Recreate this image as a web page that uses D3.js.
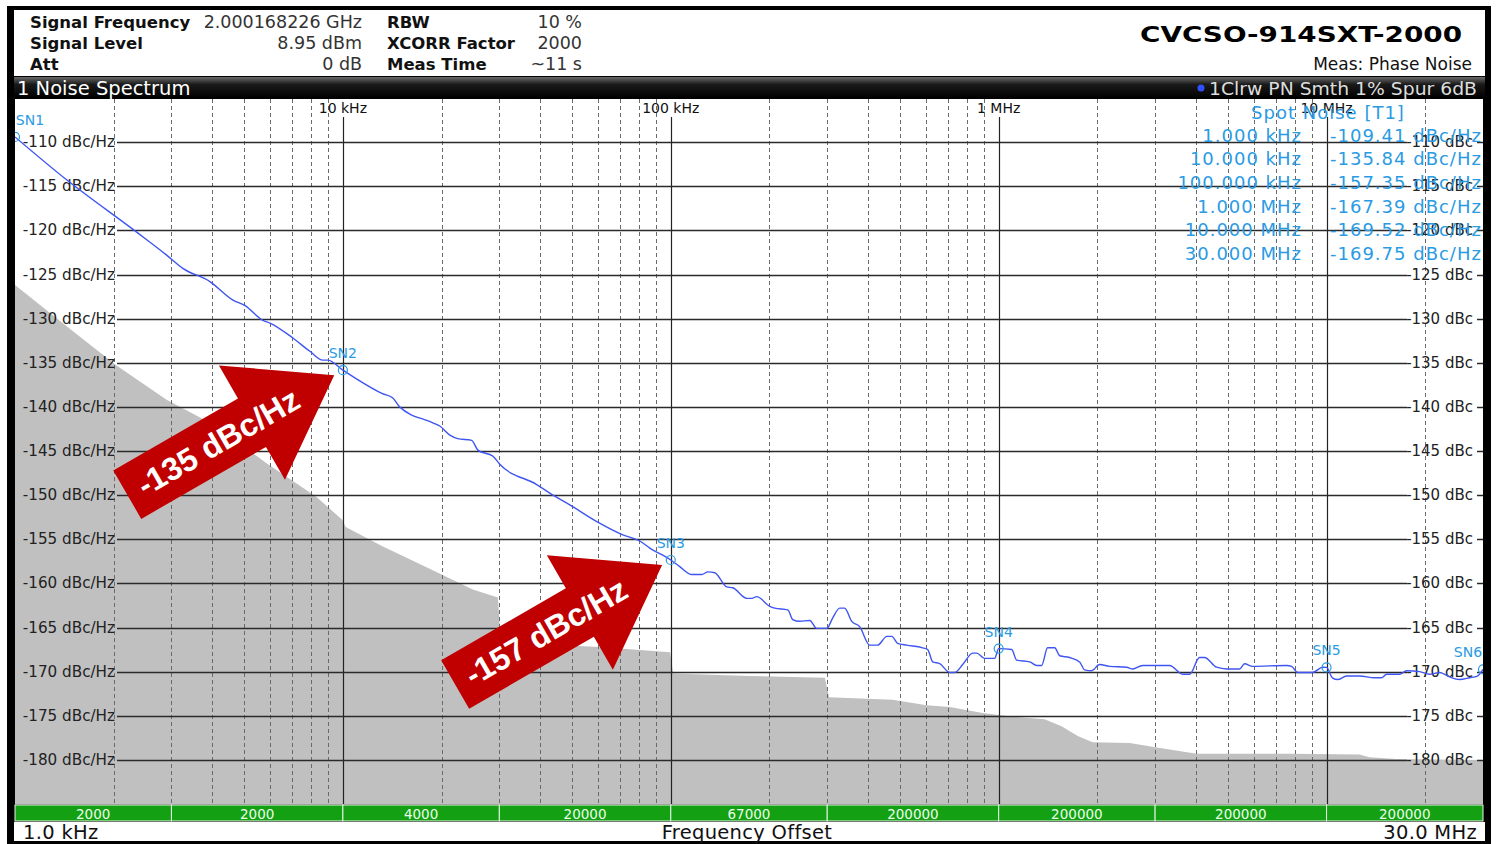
<!DOCTYPE html>
<html>
<head>
<meta charset="utf-8">
<script src="https://cdn.jsdelivr.net/npm/d3@7"></script>
<style>
  body { margin: 0; background: #fff; }
  svg { display: block; font-family: "DejaVu Sans", sans-serif; }
</style>
</head>
<body>
<svg id="chart" width="1497" height="844"></svg>
<script>
// phase noise trace: [offset kHz, dBc/Hz]
const trace = [
  [1.0, -109.41], [1.44, -114.3], [2.35, -120.2], [2.90, -122.8], [3.25, -124.3], [3.93, -125.8],
  [4.62, -127.9], [5.02, -128.5], [5.70, -130.2], [5.99, -130.5], [7.04, -132.2], [7.93, -133.7],
  [8.69, -134.7], [9.00, -134.7], [10.0, -135.84], [13.2, -138.5], [14.2, -139.0], [14.9, -140.0],
  [18.8, -141.8], [19.8, -142.2], [21.2, -143.2], [22.4, -143.6], [24.7, -143.8], [25.8, -144.9],
  [28.7, -145.6], [30.1, -146.5], [39.0, -148.8], [43.7, -150.0], [49.2, -151.1], [59.5, -153.0],
  [71.4, -154.5], [80.4, -155.2], [86.3, -156.0], [100, -157.35], [106.5, -158.1], [115.9, -159.0],
  [124.3, -159.0], [129.7, -158.7], [136.2, -158.8], [148.2, -160.4], [154.5, -160.5], [170.6, -161.7],
  [176.6, -161.7], [182.9, -161.5], [200.4, -162.6], [207.5, -162.8], [227.5, -163.0], [235.5, -164.1],
  [247.3, -164.3], [265.3, -164.2], [278.6, -165.1], [299, -165.1], [311.9, -163.9], [327.5, -162.8],
  [339, -162.8], [356.4, -164.3], [376.8, -164.9], [404.4, -167.0], [427.6, -167.0], [456, -166.0],
  [472, -166.0], [492, -166.8], [524.8, -167.0], [586.4, -167.3], [607.6, -167.5], [629.5, -168.9],
  [661, -169.1], [709.6, -170.1], [734.5, -170.1], [776.8, -169.2], [833.4, -167.9], [857, -167.9],
  [906, -168.5], [972, -168.5], [1000, -167.39], [1096, -167.5], [1135, -168.7], [1244, -168.9],
  [1306, -169.3], [1352, -169.3], [1410, -167.3], [1482, -167.3], [1535, -168.2], [1645, -168.4],
  [1766, -168.9], [1829, -169.8], [1921, -169.9], [2032, -169.2], [2178, -169.4], [2455, -169.5],
  [2564, -169.7], [2748, -169.3], [3321, -169.3], [3639, -170.3], [3821, -170.3], [4100, -168.4],
  [4246, -168.4], [4619, -169.5], [4955, -169.7], [5430, -169.7], [5623, -169.1], [5946, -169.4],
  [7551, -169.3], [7820, -169.4], [8166, -170.1], [9065, -170.1], [9727, -169.5], [10000, -169.52],
  [10420, -170.7], [10810, -170.9], [11510, -170.5], [12610, -170.5], [14000, -170.7], [14720, -170.7],
  [15240, -170.3], [16710, -170.3], [17540, -169.9], [19230, -170.0], [20610, -170.3], [22130, -170.1],
  [23730, -170.6], [25430, -170.9], [27290, -170.7], [28840, -170.5], [30000, -169.75]
];

// grey area: measurement sensitivity limit [offset kHz, dBc/Hz]
const noiseFloor = [
  [1.0, -126.2], [1.44, -130.9], [2.04, -135.3], [2.90, -139.2], [4.12, -142.2], [5.85, -146.4],
  [8.31, -150.2], [9.95, -152.8], [10.2, -153.6], [13.2, -155.8], [18.8, -158.5], [24.9, -160.7],
  [29.7, -161.6], [30.3, -166.7], [60.8, -167.2], [99.5, -167.8], [101.7, -170.2], [174, -170.5],
  [295, -170.7], [304, -172.9], [475, -173.2], [603, -173.8], [709, -174.0], [894, -174.7],
  [1104, -175.1], [1380, -175.4], [1556, -176.2], [1742, -177.3], [1935, -178.0], [2508, -178.1],
  [3035, -178.6], [4016, -179.3], [7712, -179.3], [12610, -179.4], [13520, -179.7], [16330, -179.9],
  [30000, -180.0]
];

const spotFreq = [1, 10, 100, 1000, 10000, 30000];
const spotFreqLabels = ['1.000 kHz', '10.000 kHz', '100.000 kHz', '1.000 MHz', '10.000 MHz', '30.000 MHz'];
const spotValues = [-109.41, -135.84, -157.35, -167.39, -169.52, -169.75];

const yTicks = d3.range(-110, -181, -5);
const decadeTicks = [10, 100, 1000, 10000];
const decadeLabels = ['10 kHz', '100 kHz', '1 MHz', '10 MHz'];

const segEdges = [1, 3, 10, 30, 100, 300, 1000, 3000, 10000, 30000];
const segLabels = ['2000', '2000', '4000', '20000', '67000', '200000', '200000', '200000', '200000'];

const headerLeft = [['Signal Frequency', '2.000168226 GHz'], ['Signal Level', '8.95 dBm'], ['Att', '0 dB']];
const headerMid = [['RBW', '10 %'], ['XCORR Factor', '2000'], ['Meas Time', '~11 s']];

const callouts = [{ marker: 1, text: '-135 dBc/Hz' }, { marker: 2, text: '-157 dBc/Hz' }];

// ---- layout
const plot = { left: 15, right: 1483, top: 99, bottom: 804 };
const blue = '#2a9be3';

const svg = d3.select('#chart');

const x = d3.scaleLog().domain([1, 30000]).range([plot.left, plot.right]);
const y = d3.scaleLinear().domain([-105, -185]).range([98, plot.bottom]);

// frame
svg.append('rect').attr('x', 7).attr('y', 6).attr('width', 1484).attr('height', 838).attr('fill', '#000');
svg.append('rect').attr('x', 14).attr('y', 10).attr('width', 1471).attr('height', 66).attr('fill', '#fff');

const defs = svg.append('defs');
const grad = defs.append('linearGradient').attr('id', 'barGrad').attr('x1', 0).attr('x2', 0).attr('y1', 0).attr('y2', 1);
grad.append('stop').attr('offset', '0%').attr('stop-color', '#6a6a6a');
grad.append('stop').attr('offset', '35%').attr('stop-color', '#1a1a1a');
grad.append('stop').attr('offset', '100%').attr('stop-color', '#000');
defs.append('clipPath').attr('id', 'plotClip')
  .append('rect').attr('x', plot.left).attr('y', plot.top)
  .attr('width', plot.right - plot.left).attr('height', plot.bottom - plot.top);

// header
const header = svg.append('g');
headerLeft.forEach((d, i) => {
  const cy = 22 + i * 21;
  header.append('text').attr('x', 30).attr('y', cy).attr('dominant-baseline', 'central')
    .attr('font-size', 16.5).attr('font-weight', 'bold').attr('fill', '#111').text(d[0]);
  header.append('text').attr('x', 362).attr('y', cy).attr('dominant-baseline', 'central')
    .attr('text-anchor', 'end').attr('font-size', 17.5).attr('fill', '#333').text(d[1]);
});
headerMid.forEach((d, i) => {
  const cy = 22 + i * 21;
  header.append('text').attr('x', 387).attr('y', cy).attr('dominant-baseline', 'central')
    .attr('font-size', 16.5).attr('font-weight', 'bold').attr('fill', '#111').text(d[0]);
  header.append('text').attr('x', 582).attr('y', cy).attr('dominant-baseline', 'central')
    .attr('text-anchor', 'end').attr('font-size', 17.5).attr('fill', '#333').text(d[1]);
});
header.append('text').attr('x', 1140).attr('y', 35).attr('dominant-baseline', 'central')
  .attr('font-size', 21).attr('font-weight', 'bold').attr('fill', '#000')
  .attr('textLength', 322).attr('lengthAdjust', 'spacingAndGlyphs').text('CVCSO-914SXT-2000');
header.append('text').attr('x', 1472).attr('y', 64).attr('dominant-baseline', 'central')
  .attr('text-anchor', 'end').attr('font-size', 17).attr('fill', '#111').text('Meas: Phase Noise');

// title bar
svg.append('rect').attr('x', 14).attr('y', 77).attr('width', 1471).attr('height', 21).attr('fill', 'url(#barGrad)');
svg.append('text').attr('x', 17).attr('y', 88).attr('dominant-baseline', 'central')
  .attr('font-size', 19.5).attr('fill', '#fff').text('1 Noise Spectrum');
svg.append('circle').attr('cx', 1201).attr('cy', 88).attr('r', 3.5).attr('fill', '#3050ff');
svg.append('text').attr('x', 1209).attr('y', 88).attr('dominant-baseline', 'central')
  .attr('font-size', 18).attr('fill', '#ddd')
  .attr('textLength', 268).attr('lengthAdjust', 'spacingAndGlyphs').text('1Clrw PN Smth 1% Spur 6dB');

// plot area
svg.append('rect').attr('x', plot.left).attr('y', plot.top)
  .attr('width', plot.right - plot.left).attr('height', plot.bottom - plot.top).attr('fill', '#fff');

const pg = svg.append('g').attr('clip-path', 'url(#plotClip)');

// grey sensitivity area
const floorArea = d3.area()
  .x(d => x(d[0]))
  .y0(plot.bottom)
  .y1(d => y(d[1]));
pg.append('path').datum(noiseFloor).attr('d', floorArea).attr('fill', '#c0c0c0');

// minor (dashed) verticals
const minor = [];
[1, 10, 100, 1000, 10000].forEach(dec => {
  for (let k = 2; k <= 9; k++) if (k * dec < 30000) minor.push(k * dec);
});
pg.selectAll('line.minor').data(minor).join('line')
  .attr('class', 'minor')
  .attr('x1', d => Math.round(x(d)) + 0.5).attr('x2', d => Math.round(x(d)) + 0.5)
  .attr('y1', plot.top).attr('y2', plot.bottom)
  .attr('stroke', '#6a6a6a').attr('stroke-width', 1).attr('stroke-dasharray', '4,3');

// decade verticals with labels on top
pg.selectAll('line.major').data(decadeTicks).join('line')
  .attr('class', 'major')
  .attr('x1', d => Math.round(x(d)) + 0.5).attr('x2', d => Math.round(x(d)) + 0.5)
  .attr('y1', 117).attr('y2', plot.bottom)
  .attr('stroke', '#222').attr('stroke-width', 1.2);
pg.selectAll('text.xlab').data(decadeTicks).join('text')
  .attr('class', 'xlab')
  .attr('x', d => x(d)).attr('y', 108).attr('text-anchor', 'middle').attr('dominant-baseline', 'central')
  .attr('font-size', 14).attr('fill', '#111')
  .text((d, i) => decadeLabels[i]);

// horizontal grid with labels on both sides
pg.selectAll('line.hgrid').data(yTicks).join('line')
  .attr('class', 'hgrid')
  .attr('x1', 117).attr('x2', 1407)
  .attr('y1', d => Math.round(y(d)) + 0.5).attr('y2', d => Math.round(y(d)) + 0.5)
  .attr('stroke', '#2a2a2a').attr('stroke-width', 1.5);
pg.selectAll('line.hdash').data(yTicks).join('line')
  .attr('class', 'hdash')
  .attr('x1', 1477).attr('x2', plot.right)
  .attr('y1', d => Math.round(y(d)) + 0.5).attr('y2', d => Math.round(y(d)) + 0.5)
  .attr('stroke', '#2a2a2a').attr('stroke-width', 1.5);
pg.selectAll('text.ylab').data(yTicks).join('text')
  .attr('class', 'ylab')
  .attr('x', 115).attr('y', d => y(d)).attr('text-anchor', 'end').attr('dominant-baseline', 'central')
  .attr('font-size', 15.2).attr('fill', '#222')
  .text(d => `${d} dBc/Hz`);
pg.selectAll('text.ylabR').data(yTicks).join('text')
  .attr('class', 'ylabR')
  .attr('x', 1473).attr('y', d => y(d)).attr('text-anchor', 'end').attr('dominant-baseline', 'central')
  .attr('font-size', 15).attr('fill', '#222')
  .text(d => `${d} dBc`);

// trace
const line = d3.line()
  .x(d => x(d[0]))
  .y(d => y(d[1]))
  .curve(d3.curveMonotoneX);
pg.append('path').datum(trace).attr('d', line)
  .attr('fill', 'none').attr('stroke', '#3f55f2').attr('stroke-width', 1.4);

// spot noise markers
spotFreq.forEach((f, i) => {
  const mx = x(f), my = y(spotValues[i]);
  pg.append('circle').attr('cx', mx).attr('cy', my).attr('r', 4.5)
    .attr('fill', 'none').attr('stroke', blue).attr('stroke-width', 1.2);
  const lx = Math.max(plot.left + 15, Math.min(plot.right - 15, mx));
  pg.append('text').attr('x', lx).attr('y', my - 17).attr('text-anchor', 'middle')
    .attr('dominant-baseline', 'central').attr('font-size', 14).attr('fill', blue)
    .text(`SN${i + 1}`);
});

// spot noise table
const table = svg.append('g').attr('font-size', 18).attr('letter-spacing', 1).attr('fill', blue);
table.append('text').attr('x', 1328).attr('y', 112).attr('text-anchor', 'middle')
  .attr('dominant-baseline', 'central').text('Spot Noise [T1]');
spotFreqLabels.forEach((lab, i) => {
  const cy = 135 + i * 23.7;
  table.append('text').attr('x', 1302).attr('y', cy).attr('text-anchor', 'end')
    .attr('dominant-baseline', 'central').text(lab);
  table.append('text').attr('x', 1330).attr('y', cy)
    .attr('dominant-baseline', 'central').text(`${spotValues[i].toFixed(2)} dBc/Hz`);
});

// plot bottom edge + green sweep bar
svg.append('line').attr('x1', plot.left).attr('x2', plot.right)
  .attr('y1', plot.bottom + 0.5).attr('y2', plot.bottom + 0.5).attr('stroke', '#555');
const bar = svg.append('g');
bar.selectAll('rect').data(segLabels).join('rect')
  .attr('x', (d, i) => x(segEdges[i])).attr('y', 805)
  .attr('width', (d, i) => x(segEdges[i + 1]) - x(segEdges[i])).attr('height', 16)
  .attr('fill', '#13a113').attr('stroke', '#e8f8e8').attr('stroke-width', 1);
bar.selectAll('text').data(segLabels).join('text')
  .attr('x', (d, i) => (x(segEdges[i]) + x(segEdges[i + 1])) / 2).attr('y', 813.5)
  .attr('text-anchor', 'middle').attr('dominant-baseline', 'central')
  .attr('font-size', 13.5).attr('fill', '#eaffea').text(d => d);

// bottom info row
svg.append('rect').attr('x', 14).attr('y', 822).attr('width', 1471).attr('height', 19).attr('fill', '#fff');
const foot = svg.append('g').attr('font-size', 19.5).attr('letter-spacing', 0.3).attr('fill', '#111');
foot.append('text').attr('x', 23).attr('y', 832).attr('dominant-baseline', 'central').text('1.0 kHz');
foot.append('text').attr('x', 747).attr('y', 832).attr('text-anchor', 'middle').attr('dominant-baseline', 'central')
  .text('Frequency Offset');
foot.append('text').attr('x', 1477).attr('y', 832).attr('text-anchor', 'end').attr('dominant-baseline', 'central')
  .text('30.0 MHz');

// red call-out arrows pointing at markers
const angle = -30, gap = 10;
const rad = angle * Math.PI / 180;
const arrowShape = [[0, 0], [-95, -66], [-95, -28], [-239, -28], [-239, 28], [-95, 28], [-95, 66]];
callouts.forEach(c => {
  const tx = x(spotFreq[c.marker]) - gap * Math.cos(rad);
  const ty = y(spotValues[c.marker]) - gap * Math.sin(rad);
  const g = svg.append('g').attr('transform', `translate(${tx},${ty}) rotate(${angle})`);
  g.append('path').attr('d', d3.line()(arrowShape) + 'Z').attr('fill', '#c00000');
  g.append('text').attr('x', -134).attr('y', 0).attr('text-anchor', 'middle').attr('dominant-baseline', 'central')
    .attr('font-family', '"Liberation Sans", Arial, sans-serif').attr('font-weight', 'bold')
    .attr('font-size', 32).attr('fill', '#fff').text(c.text);
});
</script>
</body>
</html>
